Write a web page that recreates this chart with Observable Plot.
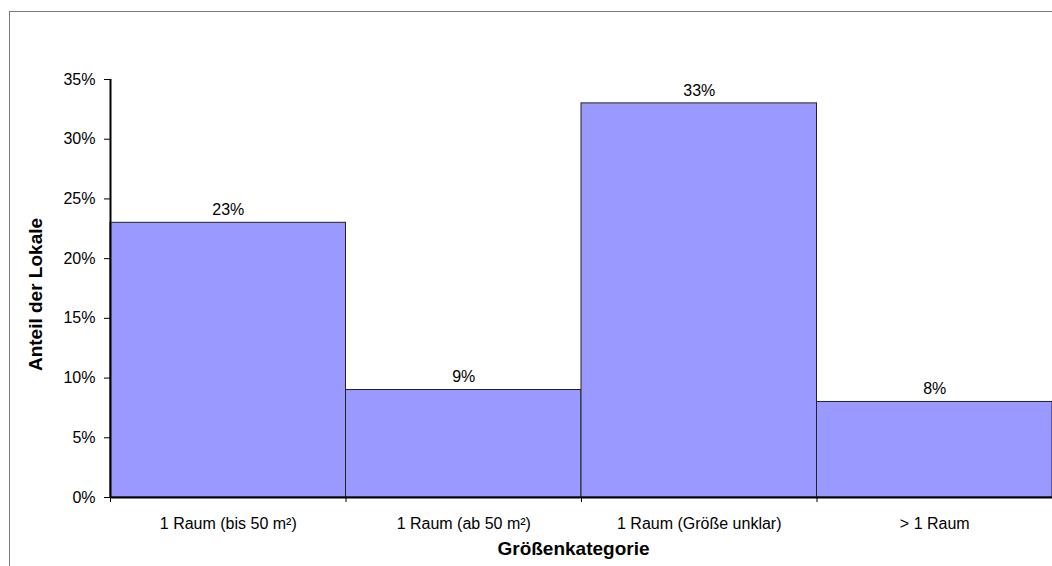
<!DOCTYPE html>
<html>
<head>
<meta charset="utf-8">
<script src="https://cdn.jsdelivr.net/npm/d3@7"></script>
<script src="https://cdn.jsdelivr.net/npm/@observablehq/plot@0.6"></script>
<style>
  html, body { margin: 0; padding: 0; background: #fff; }
  #wrap { position: relative; width: 1052px; height: 566px; overflow: hidden; }
  #border { position: absolute; left: 9px; top: 11px; right: -2px; bottom: -2px;
            border-left: 1px solid #7a7a7a; border-top: 1px solid #7a7a7a; }
  #chart { position: absolute; left: 0; top: 0; }
</style>
</head>
<body>
<div id="wrap"><div id="border"></div><div id="chart"></div></div>
<script>
const categories = ["1 Raum (bis 50 m²)", "1 Raum (ab 50 m²)", "1 Raum (Größe unklar)", "> 1 Raum"];
const values = [0.23, 0.09, 0.33, 0.08];
const yTicks = [0, 0.05, 0.10, 0.15, 0.20, 0.25, 0.30, 0.35];
const yTitle = "Anteil der Lokale";
const xTitle = "Größenkategorie";

const data = categories.map((c, i) => ({i, category: c, value: values[i]}));
const boundaries = d3.range(categories.length + 1);
const pct = d3.format(".0%");
const font = "'Liberation Sans', Arial, sans-serif";

const chart = Plot.plot({
  width: 1052,
  height: 566,
  marginLeft: 110,
  marginRight: 0,
  marginTop: 79,
  marginBottom: 69,
  style: {fontFamily: font, fontSize: "16px", background: "transparent", color: "#000", overflow: "visible"},
  x: {domain: [0, categories.length], axis: null},
  y: {domain: [0, 0.35], axis: null},
  marks: [
    Plot.rect(data, {x1: "i", x2: d => d.i + 1, y1: 0, y2: "value", fill: "#9999FF", stroke: "#222", strokeWidth: 1}),
    Plot.text(data, {x: d => d.i + 0.5, y: "value", text: d => pct(d.value), dy: -13, fontSize: 16, fill: "#000"}),
    Plot.axisY({ticks: yTicks, tickFormat: pct, tickSize: 6, tickPadding: 9, label: null, fontSize: 16, stroke: "#000"}),
    Plot.axisX({ticks: boundaries, tickSize: 5, tickFormat: () => "", label: null, stroke: "#000"}),
    Plot.axisX({ticks: categories.map((c, i) => i + 0.5), tickSize: 0, tickPadding: 20,
                tickFormat: d => categories[Math.round(d - 0.5)], label: null, fontSize: 16}),
    Plot.ruleX([0], {stroke: "#000", strokeWidth: 2}),
    Plot.ruleY([0], {stroke: "#000", strokeWidth: 2}),
    Plot.text([yTitle], {frameAnchor: "left", textAnchor: "middle", lineAnchor: "middle", rotate: -90, dx: -75, dy: 6, fontSize: 19, fontWeight: "bold", fill: "#000"}),
    Plot.text([xTitle], {frameAnchor: "bottom", lineAnchor: "middle", dx: -8, dy: 51, fontSize: 19, fontWeight: "bold", fill: "#000"})
  ]
});
document.getElementById("chart").appendChild(chart);
</script>
</body>
</html>
